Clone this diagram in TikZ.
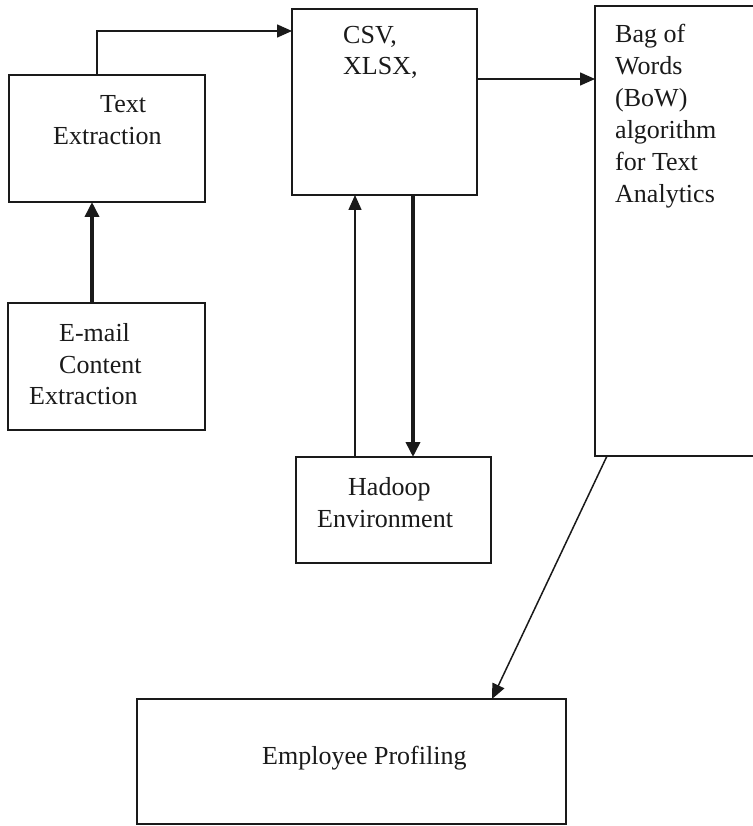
\documentclass[tikz,border=0pt]{standalone}
\usepackage{fontspec}
\setmainfont{Liberation Serif}
\usetikzlibrary{arrows.meta,calc}

\tikzset{
  box/.style={draw=ink, line width=1.6pt, inner sep=0pt, outer sep=0pt},
  txt/.style={anchor=base west, inner sep=0pt, text=ink, font=\fontsize{26}{31}\selectfont},
  flow/.style={draw=ink, line width=1.5pt, -{Triangle[length=15pt,width=13pt]}},
  heavyflow/.style={draw=ink, line width=3.6pt, -{Triangle[length=15pt,width=14pt]}}
}
\definecolor{ink}{HTML}{1A1A1A}

\begin{document}
\begin{tikzpicture}[x=1pt,y=-1pt]
  \useasboundingbox (0,0) rectangle (752,826);
  \fill[white] (0,0) rectangle (752,826);

  % boxes (given by their corners)
  \node[box, minimum width=196pt, minimum height=127pt] (te)  at (107,138.5) {};
  \node[box, minimum width=197pt, minimum height=127pt] (em)  at (106.5,366.5) {};
  \node[box, minimum width=185pt, minimum height=186pt] (csv) at (384.5,102) {};
  \node[box, minimum width=161pt, minimum height=450pt] (bow) at (675.5,231) {};
  \node[box, minimum width=195pt, minimum height=106pt] (had) at (393.5,510) {};
  \node[box, minimum width=429pt, minimum height=125pt] (emp) at (351.5,761.5) {};

  % box texts, one line per node
  \node[txt] (te1) at (100,113) {Text};
  \node[txt] (te2) at (53,145) {Extraction};

  \node[txt] (em1) at (59,341) {E-mail};
  \node[txt] (em2) at (59,373) {Content};
  \node[txt] (em3) at (29,404) {Extraction};

  \node[txt] (cs1) at (343,44) {CSV,};
  \node[txt] (cs2) at (343,75) {XLSX,};

  \node[txt] (bw1) at (615,43) {Bag of};
  \node[txt] (bw2) at (615,75) {Words};
  \node[txt] (bw3) at (615,107) {(BoW)};
  \node[txt] (bw4) at (615,139) {algorithm};
  \node[txt] (bw5) at (615,171) {for Text};
  \node[txt] (bw6) at (615,203) {Analytics};

  \node[txt] (hd1) at (348,495) {Hadoop};
  \node[txt] (hd2) at (317,527) {Environment};

  \node[txt] (ep1) at (262,764) {Employee Profiling};

  % connectors
  \draw[flow] ($(te.north west)+(88,0)$) |- ($(csv.north west)+(0,22)$);
  \draw[heavyflow] ($(em.north west)+(84,0)$) -- ($(te.south west)+(83,0)$);
  \draw[flow] ($(csv.north east)+(0,70)$) -- ($(bow.north west)+(0,73)$);
  \draw[flow] ($(had.north west)+(59,0)$) -- ($(csv.south west)+(63,0)$);
  \draw[heavyflow] ($(csv.south west)+(121,0)$) -- ($(had.north west)+(117,0)$);
  \draw[flow] ($(bow.south west)+(12,0)$) -- ($(emp.north west)+(355,0)$);
\end{tikzpicture}
\end{document}
